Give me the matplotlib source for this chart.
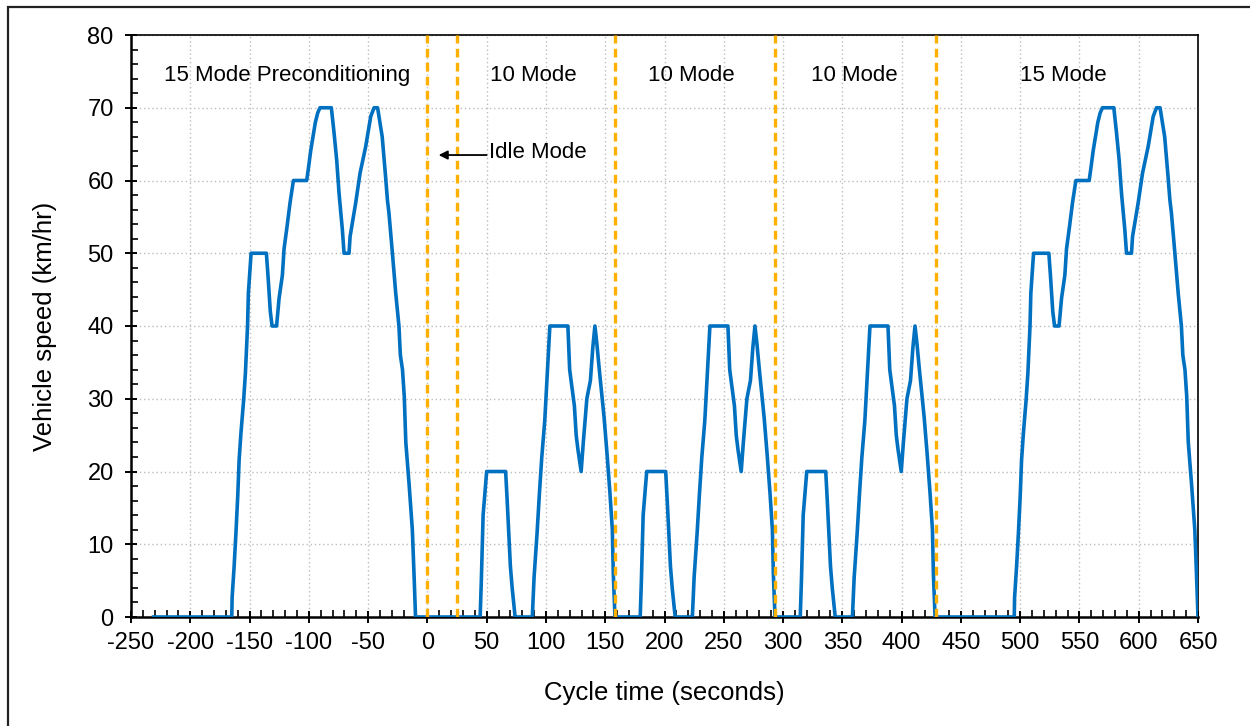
import matplotlib
matplotlib.use("Agg")
import matplotlib.pyplot as plt
from matplotlib.patches import Rectangle
from matplotlib.ticker import MultipleLocator

plt.rcParams['font.family'] = ['Liberation Sans', 'DejaVu Sans']
plt.rcParams['axes.unicode_minus'] = False

# ---- data ----
# 10 mode profile, time relative to the start of each 10 mode (s), speed km/h
ten_mode_t = [0, 19.5, 20.5, 21, 22, 23.5, 25, 41, 42.3, 43.5, 45, 46.5, 49,
              63.5, 65, 67.5, 69.5, 71.5, 74, 76, 78.3, 93.5, 95, 97, 99, 100.5,
              102, 104.7, 106.5, 109.5, 112.5, 114.5, 116.3, 118, 120, 122.5,
              124, 126.5, 129, 131, 131.8, 133.2]
ten_mode_v = [0, 0, 5, 8, 14, 17, 20, 20, 16, 12, 7, 4, 0,
              0, 5.5, 11.5, 17, 22, 27, 33, 40, 40, 34, 31.5, 29, 25,
              23, 20, 24, 30, 32.5, 37, 40, 37.5, 34, 30,
              27.5, 22.5, 17, 12, 6, 0]
ten_mode_starts = [25, 160, 295]

# 15 mode profile, time relative to the start of each 15 mode (s), speed km/h
fifteen_mode_t = [0, 66, 66.3, 68, 69.5, 71, 72.2, 73.7, 76, 77.5, 79.3, 80, 82.3,
                  95.2, 96.6, 98.5, 100, 103.8, 105.9, 108.7, 110.1, 112.4, 115.2,
                  118, 129.2, 130.5, 132.5, 134.5, 136.5, 138.5, 140.4, 150, 152.3,
                  154.5, 156.5, 159.3, 160.7, 164.9, 165.8, 170.5, 174.2, 179,
                  183.2, 186, 189, 192.9, 195.7, 197.3, 198.6, 201.5, 204.3,
                  207, 208.2, 210, 211.5, 212.8, 215.5, 218.3, 219.7, 221]
fifteen_mode_v = [0, 0, 2.7, 7, 11.5, 16.5, 21.6, 25.2, 29.8, 33.5, 40, 44.5, 50,
                  50, 46.8, 42, 40, 40, 43.8, 47, 50.6, 53.4, 57,
                  60, 60, 61.5, 64, 66, 68, 69.3, 70, 70, 66.5,
                  62.8, 58.2, 53.2, 50, 50, 52.3, 56.9, 61, 64.7,
                  68.8, 70, 70, 66, 60.6, 57.3, 55.5, 50, 44.5,
                  40, 36, 34, 30.3, 24, 18.4, 12, 6, 0]
fifteen_mode_starts = [-231, 429]

mode_boundaries = [0, 25, 158, 293, 429]

mode_labels = ['15 Mode Preconditioning', '10 Mode', '10 Mode', '10 Mode', '15 Mode']
mode_label_x = [-118.5, 89.5, 222.5, 360, 536]
mode_label_y = 74.5

# ---- assemble the full trace ----
segments = [(s, fifteen_mode_t, fifteen_mode_v) for s in fifteen_mode_starts] + \
           [(s, ten_mode_t, ten_mode_v) for s in ten_mode_starts]
segments.sort(key=lambda a: a[0])
time, speed = [], []
for s, tt, vv in segments:
    time += [s + t for t in tt]
    speed += list(vv)

# ---- figure ----
fig = plt.figure(figsize=(12.5, 7.26), dpi=100)
ax = fig.add_axes([131/1250, 1 - 617/726, (1198 - 131)/1250, (617 - 35)/726])

ax.plot(time, speed, color='#0070C0', lw=2.6, zorder=3, solid_joinstyle='round')
for xb in mode_boundaries:
    ax.axvline(xb, color='#FFB000', lw=2.4, dashes=(2.6, 1.6), zorder=4)

ax.set_xlim(-250, 650)
ax.set_ylim(0, 80)
ax.xaxis.set_major_locator(MultipleLocator(50))
ax.xaxis.set_minor_locator(MultipleLocator(10))
ax.yaxis.set_major_locator(MultipleLocator(10))
ax.yaxis.set_minor_locator(MultipleLocator(2))

ax.grid(True, which='major', color='#bdbdbd', lw=1.0, linestyle=(0, (1, 2)))
ax.set_axisbelow(True)

ax.tick_params(axis='both', which='major', direction='inout', length=9,
               width=1.4, labelsize=17, color='black')
ax.tick_params(axis='both', which='minor', direction='in', length=5, width=1.2)
ax.tick_params(axis='y', which='major', pad=8)
ax.tick_params(axis='x', which='major', pad=6)

for side in ['left', 'bottom']:
    ax.spines[side].set_linewidth(1.8)
for side in ['top', 'right']:
    ax.spines[side].set_linewidth(1.2)

ax.set_xlabel('Cycle time (seconds)', fontsize=18.5, labelpad=20)
ax.set_ylabel('Vehicle speed (km/hr)', fontsize=18.5, labelpad=22)

for lab, xl in zip(mode_labels, mode_label_x):
    ax.text(xl, mode_label_y, lab, ha='center', va='center', fontsize=16, zorder=5)

ax.annotate('', xy=(9.5, 63.5), xytext=(50, 63.5),
            arrowprops=dict(arrowstyle='-|>', color='black', lw=1.3, mutation_scale=13,
                            shrinkA=0, shrinkB=0), zorder=5)
ax.text(52, 63.8, 'Idle Mode', ha='left', va='center', fontsize=16, zorder=5)

fig.patches.append(Rectangle((8/1250, -0.02), 1.5, 1 - 7/726 + 0.02,
                             transform=fig.transFigure, fill=False,
                             lw=1.6, ec='#222222'))

fig.savefig('out.png', dpi=100)
